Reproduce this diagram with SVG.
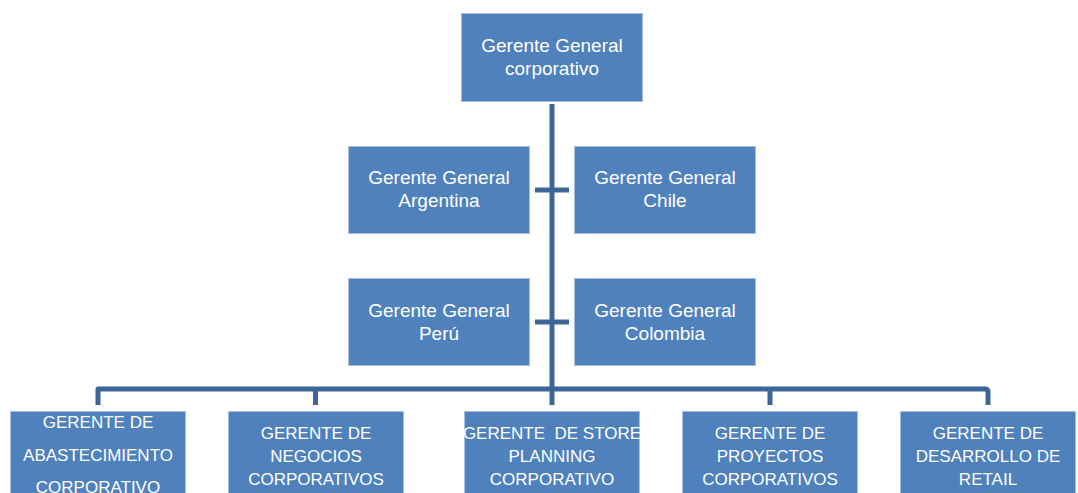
<svg xmlns="http://www.w3.org/2000/svg" width="1078" height="493" viewBox="0 0 1078 493">
<style>
.box{fill:#4F81BD;stroke:#A9BFDD;stroke-width:1}
.t{font-family:"Liberation Sans",Arial,sans-serif;fill:#FFFFFF;text-anchor:middle}
.m{font-size:19px}
.u{font-size:17px}
.c{fill:none;stroke:#3D6698;stroke-width:5;stroke-linejoin:round}
</style>
<rect width="1078" height="493" fill="#FFFFFF"/>
<g id="connectors">
<path class="c" d="M552,104 V405"/>
<path class="c" d="M535,190 H569 M535,322 H569"/>
<path class="c" d="M98,405 V389 H985 Q988,389 988,392 V405"/>
<path class="c" d="M315.5,389 V405 M770,389 V405"/>
</g>
<g id="n-corporativo">
<rect class="box" x="461.5" y="13.5" width="181" height="88"/>
<text class="t m" x="552" y="52">Gerente General</text>
<text class="t m" x="552" y="75">corporativo</text>
</g>
<g id="n-argentina">
<rect class="box" x="348.5" y="146.5" width="181" height="87"/>
<text class="t m" x="439" y="184">Gerente General</text>
<text class="t m" x="439" y="207">Argentina</text>
</g>
<g id="n-chile">
<rect class="box" x="574.5" y="146.5" width="181" height="87"/>
<text class="t m" x="665" y="184">Gerente General</text>
<text class="t m" x="665" y="207">Chile</text>
</g>
<g id="n-peru">
<rect class="box" x="348.5" y="278.5" width="181" height="87"/>
<text class="t m" x="439" y="317">Gerente General</text>
<text class="t m" x="439" y="340">Perú</text>
</g>
<g id="n-colombia">
<rect class="box" x="574.5" y="278.5" width="181" height="87"/>
<text class="t m" x="665" y="317">Gerente General</text>
<text class="t m" x="665" y="340">Colombia</text>
</g>
<g id="n-abastecimiento">
<rect class="box" x="10.5" y="411.5" width="175" height="90"/>
<text class="t u" x="98" y="428">GERENTE DE</text>
<text class="t u" x="98" y="461">ABASTECIMIENTO</text>
<text class="t u" x="98" y="493">CORPORATIVO</text>
</g>
<g id="n-negocios">
<rect class="box" x="228.5" y="411.5" width="175" height="90"/>
<text class="t u" x="316" y="439">GERENTE DE</text>
<text class="t u" x="316" y="462">NEGOCIOS</text>
<text class="t u" x="316" y="485">CORPORATIVOS</text>
</g>
<g id="n-store">
<rect class="box" x="464.5" y="411.5" width="175" height="90"/>
<text class="t u" x="552" y="439" xml:space="preserve">GERENTE  DE STORE</text>
<text class="t u" x="552" y="462">PLANNING</text>
<text class="t u" x="552" y="485">CORPORATIVO</text>
</g>
<g id="n-proyectos">
<rect class="box" x="682.5" y="411.5" width="175" height="90"/>
<text class="t u" x="770" y="439">GERENTE DE</text>
<text class="t u" x="770" y="462">PROYECTOS</text>
<text class="t u" x="770" y="485">CORPORATIVOS</text>
</g>
<g id="n-retail">
<rect class="box" x="900.5" y="411.5" width="175" height="90"/>
<text class="t u" x="988" y="439">GERENTE DE</text>
<text class="t u" x="988" y="462">DESARROLLO DE</text>
<text class="t u" x="988" y="485">RETAIL</text>
</g>
</svg>
